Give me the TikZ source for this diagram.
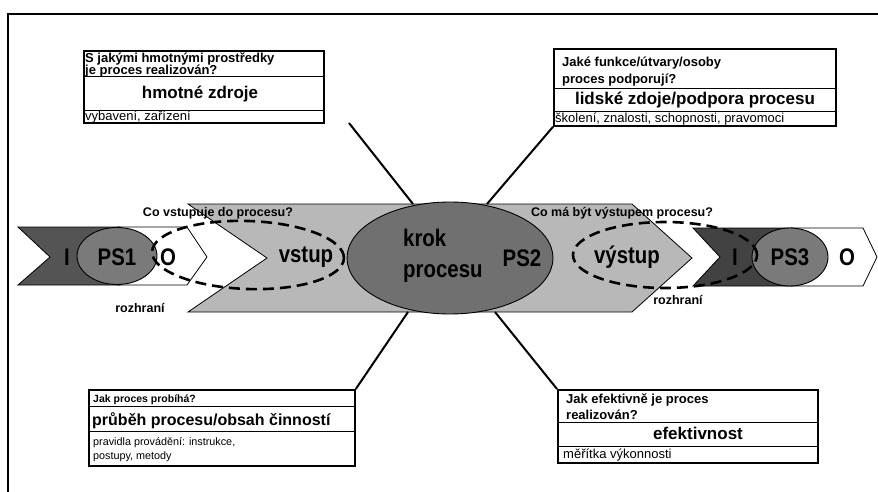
\documentclass[tikz,border=0pt]{standalone}
\usepackage{fontspec}
\setmainfont{Liberation Sans}
\newfontfamily\tallsans{Liberation Sans}[FakeStretch=0.85]
\usetikzlibrary{shapes.geometric}

\definecolor{bandgray}{gray}{0.72}
\definecolor{leftdark}{gray}{0.33}
\definecolor{rightdark}{gray}{0.26}
\definecolor{psgray}{gray}{0.48}
\definecolor{krokgray}{gray}{0.44}

\tikzset{
  shapeline/.style={draw=black, line width=0.8pt},
  dashring/.style={draw=black, line width=2.6pt, dash pattern=on 11pt off 6pt},
  oval/.style={ellipse, draw=black, line width=0.9pt, inner sep=0pt},
  big/.style={font=\tallsans\fontsize{24}{26}\selectfont\bfseries, inner sep=0pt},
  ask/.style={font=\fontsize{12.5}{14}\selectfont\bfseries, inner sep=0pt},
  boxframe/.style={draw=black, line width=1.8pt, anchor=north west, inner sep=0pt},
  divider/.style={draw=black, line width=0.8pt},
  qtext/.style={font=\fontsize{13}{15}\selectfont\bfseries, anchor=base west, inner sep=0pt},
  ttext/.style={font=\fontsize{17}{19}\selectfont\bfseries, anchor=base, inner sep=0pt},
  ntext/.style={font=\fontsize{13}{15}\selectfont, anchor=base west, inner sep=0pt},
  link/.style={draw=black, line width=2pt},
}

\begin{document}
\begin{tikzpicture}[x=1pt,y=-1pt]
\useasboundingbox (0,0) rectangle (878,492);
\fill[white] (0,0) rectangle (878,492);

% page frame
\draw[line width=1.5pt] (878,14) -- (8,14) -- (8,492);

% central process band
\filldraw[fill=bandgray, shapeline] (188,204) -- (632,204) -- (692,258) -- (632,312)
  -- (188,312) -- (267,258) -- cycle;

% preceding step PS1
\filldraw[fill=leftdark, shapeline] (18,227) -- (120,227) -- (120,285) -- (18,285) -- (50,257) -- cycle;
\filldraw[fill=white, shapeline] (117,227) -- (187,227) -- (207,257) -- (187,285) -- (117,285);
\node[oval, fill=psgray, minimum width=80pt, minimum height=57pt] (ps1) at (117,256) {};

% following step PS3
\filldraw[fill=rightdark, shapeline] (693,228) -- (792,228) -- (792,286) -- (693,286) -- (720,257) -- cycle;
\filldraw[fill=white, shapeline] (790,228) -- (863,228) -- (877,257) -- (863,286) -- (790,286);
\node[oval, fill=psgray, minimum width=76pt, minimum height=58pt] (ps3) at (790,257) {};

% process step PS2
\node[oval, fill=krokgray, minimum width=206pt, minimum height=112pt] (krok) at (450,258) {};

% interface rings
\node[ellipse, dashring, minimum width=192pt, minimum height=68pt, rotate=-2] (ringin) at (248,255) {};
\node[ellipse, dashring, minimum width=184pt, minimum height=66pt] (ringout) at (665,255) {};

% band labels
\node[big] (iL) at (67,257) {I};
\node[big] (ps1t) at (117,257) {PS1};
\node[big] (oL) at (168,257) {O};
\node[big] (vstup) at (306,257) {vstup};
\node[big, anchor=base west] (krok1) at (403,246) {krok};
\node[big, anchor=base west] (krok2) at (403,277) {procesu};
\node[big] (ps2t) at (522,258) {PS2};
\node[big] (vystup) at (627,257) {výstup};
\node[big] (iR) at (735,257) {I};
\node[big] (ps3t) at (790,257) {PS3};
\node[big] (oR) at (847,257) {O};

\node[ask] (qin) at (218,213) {Co vstupuje do procesu?};
\node[ask] (qout) at (622,213) {Co má být výstupem procesu?};
\node[ask] (rozL) at (140,308) {rozhraní};
\node[ask] (rozR) at (678,300) {rozhraní};

% material resources
\node[boxframe, minimum width=240pt, minimum height=72pt] (tlbox) at (83,50) {};
\draw[divider] (tlbox.west |- 0,76) -- (tlbox.east |- 0,76);
\draw[divider] (tlbox.west |- 0,110) -- (tlbox.east |- 0,110);
\node[qtext] (tlq1) at (85,62.5) {S jakými hmotnými prostředky};
\node[qtext] (tlq2) at (85,74.5) {je proces realizován?};
\node[ttext] (tlt) at (200,99) {hmotné zdroje};
\node[ntext] (tln) at (85,120.5) {vybavení, zařízení};

% human resources
\node[boxframe, minimum width=282pt, minimum height=77pt] (trbox) at (553,48) {};
\draw[divider] (trbox.west |- 0,88) -- (trbox.east |- 0,88);
\draw[divider] (trbox.west |- 0,111) -- (trbox.east |- 0,111);
\node[qtext] (trq1) at (562,66.5) {Jaké funkce/útvary/osoby};
\node[qtext] (trq2) at (562,83.5) {proces podporují?};
\node[ttext] (trt) at (695,105) {lidské zdoje/podpora procesu};
\node[ntext] (trn) at (555,122.5) {školení, znalosti, schopnosti, pravomoci};

% course of the process
\node[boxframe, minimum width=266pt, minimum height=76pt] (blbox) at (88,389) {};
\draw[divider] (blbox.west |- 0,406) -- (blbox.east |- 0,406);
\draw[divider] (blbox.west |- 0,431) -- (blbox.east |- 0,431);
\node[qtext, font=\fontsize{10.5}{12}\selectfont\bfseries] (blq) at (93,402) {Jak proces probíhá?};
\node[ttext, anchor=base west, font=\fontsize{16}{18}\selectfont\bfseries] (blt) at (92,425) {průběh procesu/obsah činností};
\node[ntext, font=\fontsize{10.8}{13}\selectfont] (bln1) at (93,445) {pravidla provádění: instrukce,};
\node[ntext, font=\fontsize{10.8}{13}\selectfont] (bln2) at (93,459) {postupy, metody};

% efficiency
\node[boxframe, minimum width=260pt, minimum height=73pt] (brbox) at (557,389) {};
\draw[divider] (brbox.west |- 0,422) -- (brbox.east |- 0,422);
\draw[divider] (brbox.west |- 0,446) -- (brbox.east |- 0,446);
\node[qtext] (brq1) at (566,403.5) {Jak efektivně je proces};
\node[qtext] (brq2) at (566,419.5) {realizován?};
\node[ttext] (brt) at (698,439) {efektivnost};
\node[ntext] (brn) at (563,458.5) {měřítka výkonnosti};

% connectors from the boxes to the process step
\coordinate (tlend) at (349,123);
\coordinate (tlband) at (413,204);
\coordinate (trband) at (487,204);
\coordinate (blband) at (408,312);
\coordinate (brband) at (495,312);
\draw[link] (tlend) -- (tlband);
\draw[link] (trbox.south west) -- (trband);
\draw[link] (blband) -- (blbox.north east);
\draw[link] (brband) -- (brbox.north west);
\end{tikzpicture}
\end{document}
